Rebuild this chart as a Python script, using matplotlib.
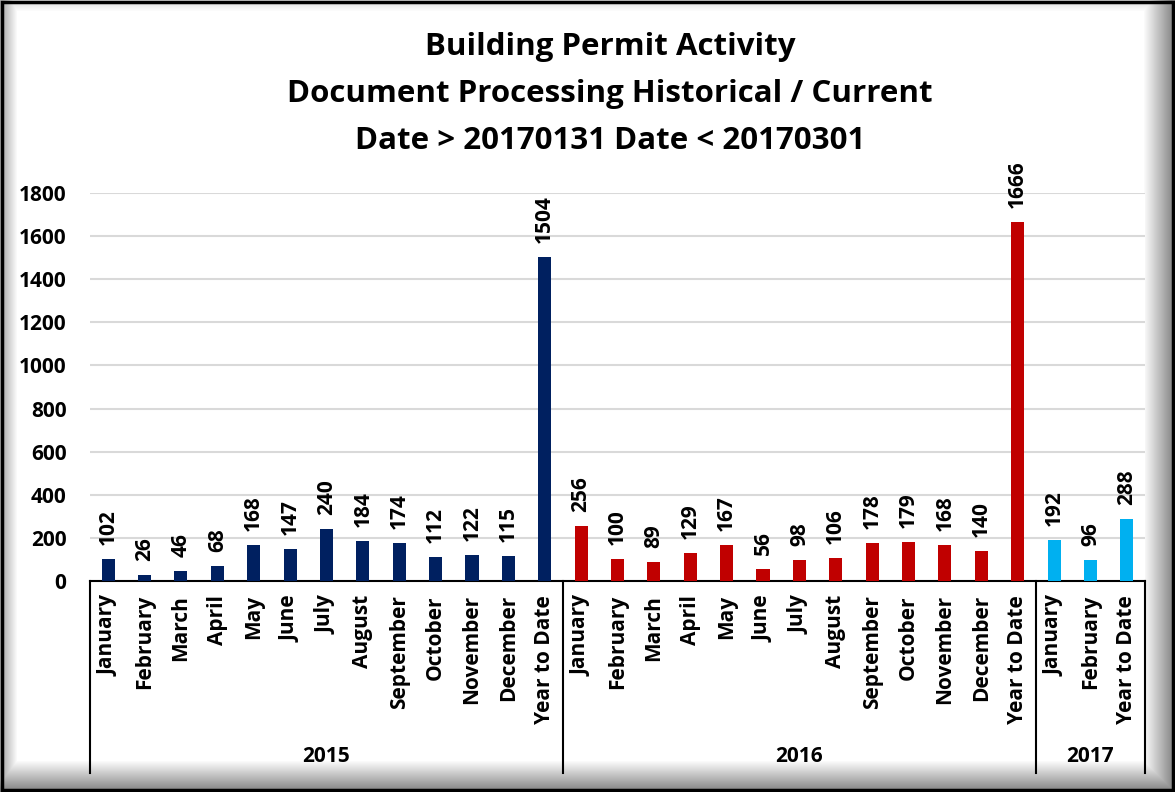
import numpy as np
import matplotlib
matplotlib.use("Agg")
import matplotlib.pyplot as plt
from matplotlib.lines import Line2D

plt.rcParams['font.family'] = ['Open Sans', 'DejaVu Sans']
plt.rcParams['font.weight'] = 'bold'

# Data
months = ['January', 'February', 'March', 'April', 'May', 'June', 'July', 'August',
          'September', 'October', 'November', 'December', 'Year to Date']
labels_2015 = months
labels_2016 = months
labels_2017 = ['January', 'February', 'Year to Date']
values_2015 = [102, 26, 46, 68, 168, 147, 240, 184, 174, 112, 122, 115, 1504]
values_2016 = [256, 100, 89, 129, 167, 56, 98, 106, 178, 179, 168, 140, 1666]
values_2017 = [192, 96, 288]
years = ['2015', '2016', '2017']
colors = ['#002060', '#C00000', '#00B0F0']

W, H = 1175, 792
fig = plt.figure(figsize=(W / 100, H / 100), dpi=100)

# Bevelled frame background
bg = fig.add_axes([0, 0, 1, 1], zorder=-10)
yy, xx = np.mgrid[0:H, 0:W]
dark = np.maximum.reduce([
    np.clip(1 - (xx - 3) / 14, 0, 1) * 0.3,
    np.clip(1 - (yy - 3) / 8, 0, 1) * 0.1,
    np.clip(1 - (W - 4 - xx) / 28, 0, 1) * 0.45,
    np.clip(1 - (H - 4 - yy) / 28, 0, 1) * 0.45,
])
img = 1 - dark
bg.imshow(np.dstack([img, img, img]), extent=[0, W, H, 0], aspect='auto')
bg.add_patch(plt.Rectangle((2, 2), W - 4, H - 4, fill=False, ec='black', lw=2.5))
bg.set_xlim(0, W)
bg.set_ylim(H, 0)
bg.axis('off')

ax = fig.add_axes([90 / W, 1 - 581 / H, (1145 - 90) / W, (581 - 193) / H])

groups = [(labels_2015, values_2015), (labels_2016, values_2016), (labels_2017, values_2017)]
pos = 0
bounds = [0]
for (labs, vals), col in zip(groups, colors):
    x = np.arange(pos, pos + len(vals))
    ax.bar(x, vals, width=0.36, color=col, zorder=3)
    for xi, v, lab in zip(x, vals, labs):
        ax.text(xi, v + 65, str(v), rotation=90, ha='center', va='bottom',
                fontsize=15, fontweight='bold', clip_on=False)
        ax.text(xi, -65, lab, rotation=90, ha='center', va='top',
                fontsize=15, fontweight='bold', clip_on=False)
    pos += len(vals)
    bounds.append(pos)

ax.set_xlim(-0.5, pos - 0.5)
ax.set_ylim(0, 1800)
ax.set_yticks(np.arange(0, 1801, 200))
ax.set_xticks([])
ax.tick_params(axis='y', length=0, labelsize=15, pad=17)
for t in ax.get_yticklabels():
    t.set_fontweight('bold')
ax.grid(axis='y', color='#D9D9D9', lw=1.5, zorder=0)
for s in ['top', 'right', 'left']:
    ax.spines[s].set_visible(False)
ax.spines['bottom'].set_linewidth(1.5)

# group separators and year labels
trans = ax.get_xaxis_transform()
for b in bounds:
    ax.add_line(Line2D([b - 0.5, b - 0.5], [0, -(773 - 581) / (581 - 193)], transform=trans,
                       color='black', lw=1.5, clip_on=False))
for i, yr in enumerate(years):
    mid = (bounds[i] + bounds[i + 1] - 1) / 2
    ax.text(mid, -(757 - 581) / (581 - 193), yr, transform=trans, ha='center', va='center',
            fontsize=15, fontweight='bold')

fig.text(610 / W, 1 - 94 / H,
         'Building Permit Activity\nDocument Processing Historical / Current\nDate > 20170131 Date < 20170301',
         ha='center', va='center', fontsize=22.5, fontweight='bold', linespacing=1.72)

fig.savefig('out.png', dpi=100)
